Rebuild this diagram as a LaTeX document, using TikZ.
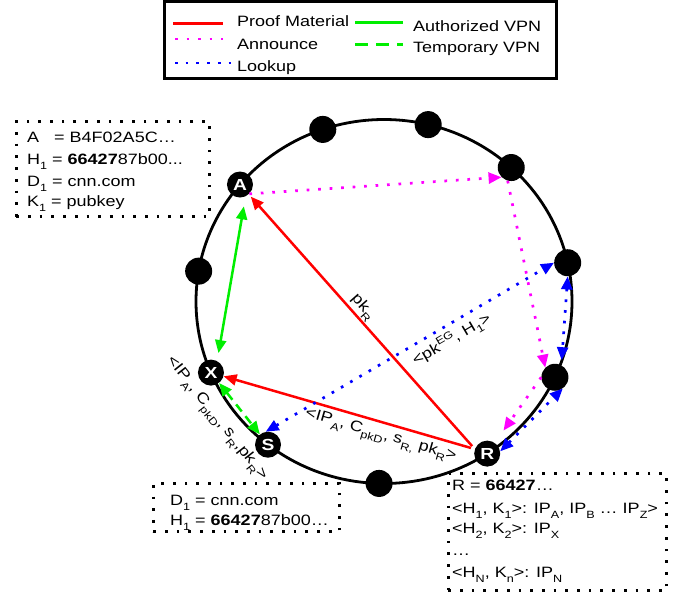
\documentclass[tikz,border=0pt]{standalone}
\usepackage{fontspec}
\setmainfont{Liberation Sans}[FakeStretch=1.2]
\usetikzlibrary{arrows.meta,calc}
\definecolor{proofred}{RGB}{255,0,0}
\definecolor{annmagenta}{RGB}{255,0,255}
\definecolor{lookblue}{RGB}{0,0,255}
\definecolor{vpngreen}{RGB}{0,238,0}
\newcommand{\lowsub}[1]{\raisebox{-5pt}{\fontsize{10.5}{10.5}\selectfont #1}}
\newcommand{\highsup}[1]{\raisebox{6pt}{\fontsize{10.5}{10.5}\selectfont #1}}
\tikzset{
 tri/.tip={Triangle[length=13pt,width=11pt]},
 peer/.style={circle, fill=black, minimum size=26pt, inner sep=0pt, text=white, font=\fontsize{16}{16}\selectfont\bfseries},
 ringdot/.style={circle, fill=black, minimum size=27pt, inner sep=0pt},
 ring/.style={line width=2.8pt},
 proof/.style={proofred, line width=2.5pt, -tri},
 announce/.style={annmagenta, line width=2.7pt, dash pattern=on 2.7pt off 8.8pt, -tri},
 lookup/.style={lookblue, line width=2.7pt, dash pattern=on 2.7pt off 8pt, tri-tri},
 authvpn/.style={vpngreen, line width=2.5pt, tri-tri},
 tempvpn/.style={vpngreen, line width=2.5pt, dash pattern=on 9pt off 6pt, tri-tri},
 keybox/.style={draw, line width=2.7pt, dash pattern=on 2.7pt off 9pt, anchor=south west},
 txtline/.style={anchor=base west, inner sep=0pt},
 lbl/.style={inner sep=1pt, sloped, text=black}
}
\begin{document}
\begin{tikzpicture}[x=1pt, y=1pt, every node/.append style={font=\fontsize{15}{18}\selectfont}]
\useasboundingbox (0,0) rectangle (683,598);

\node[draw, line width=2.5pt, minimum width=392pt, minimum height=77pt, anchor=south west] (legend) at (163,518) {};
\draw[proof,-, line width=3pt] (173,574) -- (223,574);
\draw[announce,-] (175,559) -- (223,559);
\draw[lookup,-] (175,535) -- (232,535);
\draw[authvpn,-, line width=3pt] (355,575) -- (403,575);
\draw[tempvpn,-, line width=3pt, dash pattern=on 13pt off 8pt] (355,553) -- (403,553);
\node[txtline] (lgproof) at (237,571) {Proof Material};
\node[txtline] (lgann) at (237,548) {Announce};
\node[txtline] (lglook) at (237,526) {Lookup};
\node[txtline] (lgauth) at (413,566) {Authorized VPN};
\node[txtline] (lgtemp) at (413,545) {Temporary VPN};

\node[keybox, minimum width=193pt, minimum height=95pt] (boxA) at (15,380) {};
\node[txtline] (keyA) at (27,455) {A\ \ \ = B4F02A5C…};
\node[txtline] (keyH) at (27,433) {H\lowsub{1} = \textbf{66427}87b00...};
\node[txtline] (keyD) at (27,411) {D\lowsub{1} = cnn.com};
\node[txtline] (keyK) at (27,391) {K\lowsub{1} = pubkey};

\node[keybox, minimum width=186pt, minimum height=48pt] (boxS) at (152,65) {};
\node[txtline] (domS) at (170,93) {D\lowsub{1} = cnn.com};
\node[txtline] (hashS) at (170,73) {H\lowsub{1} = \textbf{66427}87b00…};

\node[keybox, minimum width=218pt, minimum height=117pt] (boxR) at (447,6) {};
\node[txtline] (tabR) at (452,108) {R = \textbf{66427}…};
\node[txtline] (tabOne) at (452,85) {<H\lowsub{1}, K\lowsub{1}>: IP\lowsub{A}, IP\lowsub{B} … IP\lowsub{Z}>};
\node[txtline] (tabTwo) at (452,65) {<H\lowsub{2}, K\lowsub{2}>: IP\lowsub{X}};
\node[txtline] (tabDots) at (452,43) {…};
\node[txtline] (tabN) at (452,21) {<H\lowsub{N}, K\lowsub{n}>: IP\lowsub{N}};

\coordinate (ctr) at (384,296.5);
\draw[ring] (ctr) ellipse [x radius=188pt, y radius=182pt];
\node[peer] (A) at ($(ctr)+(140:188pt and 182pt)$) {A};
\node[peer] (X) at ($(ctr)+(203:188pt and 182pt)$) {X};
\node[peer] (S) at ($(ctr)+(231.9:188pt and 182pt)$) {S};
\node[peer] (R) at ($(ctr)+(-56.7:188pt and 182pt)$) {R};
\node[ringdot] (dotleft) at ($(ctr)+(170.4:188pt and 182pt)$) {};
\node[ringdot] (dottopl) at ($(ctr)+(109:188pt and 182pt)$) {};
\node[ringdot] (dottopr) at ($(ctr)+(76.4:188pt and 182pt)$) {};
\node[ringdot] (dotupr) at ($(ctr)+(47.4:188pt and 182pt)$) {};
\node[ringdot] (dotright) at ($(ctr)+(12.3:188pt and 182pt)$) {};
\node[ringdot] (dotlowr) at ($(ctr)+(-24.6:188pt and 182pt)$) {};
\node[ringdot] (dotbottom) at ($(ctr)+(-91.5:188pt and 182pt)$) {};

\draw[proof, shorten <=4pt, shorten >=3pt] (R.160) -- (A) node[lbl, above, pos=0.53] {pk\lowsub{R}};
\draw[proof, shorten <=4pt] (R.160) -- (X) node[lbl, below=3pt, pos=0.36] {<IP\lowsub{A}, C\lowsub{pkD}, s\lowsub{R,} pk\lowsub{R}>};
\draw[authvpn, shorten <=10pt, shorten >=8pt] (A.-65) -- (X.62);
\draw[tempvpn] (X) -- (S) node[lbl, below=14pt, pos=0.4] {<IP\lowsub{A}, C\lowsub{pkD}, s\lowsub{R},pk\lowsub{R}>};
\draw[announce] (A.south east) -- (dotupr.south west);
\draw[announce] (dotupr.-105) -- (dotlowr.north west);
\draw[announce, shorten >=15pt] (dotlowr.west) -- (R);
\draw[lookup] (S.100) -- (dotright.west) node[lbl, below=3pt, pos=0.62] {<pk\highsup{EG}, H\lowsub{1}>};
\draw[lookup, shorten >=5pt] (dotright.south) -- (dotlowr.62);
\draw[lookup] (R.10) -- (dotlowr.-55);
\end{tikzpicture}
\end{document}
